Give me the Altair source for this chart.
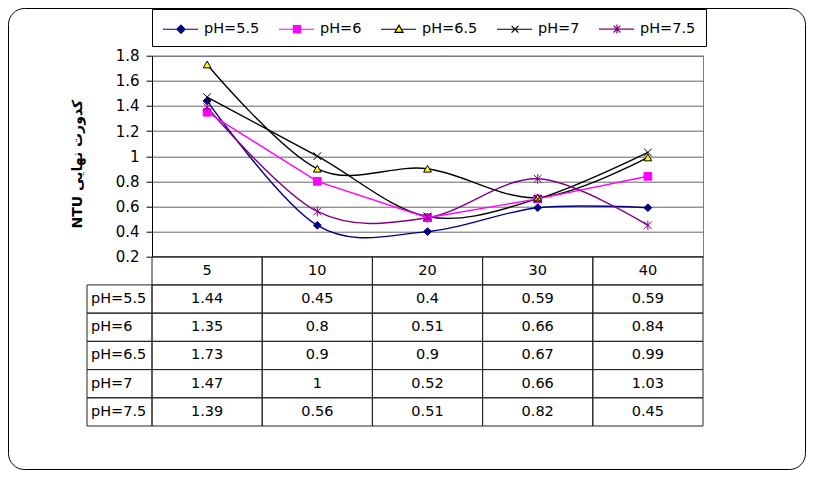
import altair as alt
import pandas as pd

# ---------------- data ----------------
conc = ["5", "10", "20", "30", "40"]
series = ["pH=5.5", "pH=6", "pH=6.5", "pH=7", "pH=7.5"]
ph55 = [1.44, 0.45, 0.4, 0.59, 0.59]
ph6 = [1.35, 0.8, 0.51, 0.66, 0.84]
ph65 = [1.73, 0.9, 0.9, 0.67, 0.99]
ph7 = [1.47, 1, 0.52, 0.66, 1.03]
ph75 = [1.39, 0.56, 0.51, 0.82, 0.45]
values = [ph55, ph6, ph65, ph7, ph75]
y_ticks = [0.2, 0.4, 0.6, 0.8, 1.0, 1.2, 1.4, 1.6, 1.8]
y_title = "NTU کدورت نهایی"
x_title = "mg/l غلظت"

line_colors = ["#000080", "#FF00FF", "#000000", "#000000", "#800080"]
fill_colors = ["#000080", "#FF00FF", "#FFFF00", "#000000", "#800080"]
marker_shapes = [
    "diamond",
    "square",
    "triangle-up",
    "M-1,-1L1,1M-1,1L1,-1",
    "M-1,-1L1,1M-1,1L1,-1M0,-1.25L0,1.25",
]
legend_shapes = [
    "M-1,0L2.89,0M1,-0.45L1.45,0L1,0.45L0.55,0Z",
    "M-1,0L2.89,0M0.6,-0.4L1.4,-0.4L1.4,0.4L0.6,0.4Z",
    "M-1,0L0.75,0M1.25,0L2.89,0M1,-0.45L1.45,0.35L0.55,0.35Z",
    "M-1,0L2.89,0M0.62,-0.38L1.38,0.38M0.62,0.38L1.38,-0.38",
    "M-1,0L2.89,0M0.62,-0.38L1.38,0.38M0.62,0.38L1.38,-0.38M1,-0.5L1,0.5",
]

rows = []
for s, vals in zip(series, values):
    for j, (c, v) in enumerate(zip(conc, vals)):
        rows.append({"series": s, "conc": c, "idx": j, "value": v, "label": f"{v:g}"})
df = pd.DataFrame(rows)

tbl_rows = [{"row": "hdr", "conc": c, "text": c} for c in conc]
for r in rows:
    tbl_rows.append({"row": r["series"], "conc": r["conc"], "text": r["label"]})
tbl = pd.DataFrame(tbl_rows)
lbl = pd.DataFrame({"row": series})

FONT = "DejaVu Sans"
W, H = 551, 201

# ---------------- encodings ----------------
x_axis = alt.Axis(
    labels=False, ticks=False, grid=False, domain=True,
    domainColor="#404040", domainWidth=2,
    title=x_title, titleFont=FONT, titleFontSize=14, titleFontWeight="bold",
    titleColor="black", titleX=246, titleY=192, titleAlign="center",
    titleBaseline="middle", titleAngle=0,
)
x_enc = alt.X("conc:O", scale=alt.Scale(type="band", domain=conc, paddingInner=0, paddingOuter=0), axis=x_axis)
x_enc_na = alt.X("conc:O", scale=alt.Scale(type="band", domain=conc, paddingInner=0, paddingOuter=0), axis=None)

y_axis = alt.Axis(
    values=y_ticks, format=".1~f", grid=True, gridColor="#666666", gridWidth=1,
    domainColor="black", tickColor="black", tickSize=6, labelPadding=7,
    labelFont=FONT, labelFontSize=15, labelColor="black",
    title=y_title, titleFont=FONT, titleFontSize=14, titleFontWeight="bold",
    titleColor="black", titleX=-75, titleY=108, titleAngle=270,
    titleAlign="center", titleBaseline="middle",
)
y_enc = alt.Y("value:Q", scale=alt.Scale(domain=[0.2, 1.8], nice=False, zero=False), axis=y_axis)

stroke_enc = alt.Stroke("series:N", scale=alt.Scale(domain=series, range=line_colors), legend=None)
fill_enc = alt.Fill("series:N", scale=alt.Scale(domain=series, range=fill_colors), legend=None)
shape_enc = alt.Shape("series:N", scale=alt.Scale(domain=series, range=marker_shapes), legend=None)

base = alt.Chart(df)

line_smooth = base.transform_filter(alt.datum.series != "pH=6").mark_line(
    interpolate="cardinal", strokeWidth=1.4
).encode(x=x_enc, y=y_enc, stroke=stroke_enc, order=alt.Order("idx:Q"), detail="series:N")

line_lin = base.transform_filter(alt.datum.series == "pH=6").mark_line(
    interpolate="linear", strokeWidth=1.4
).encode(x=x_enc, y=y_enc, stroke=stroke_enc, order=alt.Order("idx:Q"), detail="series:N")

points = base.mark_point(filled=True, opacity=1, size=60, strokeWidth=1).encode(
    x=x_enc, y=y_enc, stroke=stroke_enc, fill=fill_enc, shape=shape_enc
)

plot = alt.layer(line_smooth, line_lin, points)

# ---------------- data table ----------------
ty_enc = alt.Y(
    "row:N",
    scale=alt.Scale(type="band", domain=["hdr"] + series, range=[201, 370.3], paddingInner=0, paddingOuter=0),
    axis=None,
)
cells = alt.Chart(tbl).mark_rect(fill="transparent", stroke="#222222", strokeWidth=1).encode(x=x_enc_na, y=ty_enc)
cell_text = alt.Chart(tbl).mark_text(font=FONT, fontSize=14.5, color="black", baseline="middle").encode(
    x=x_enc_na, y=ty_enc, text="text:N"
)
label_cells = alt.Chart(lbl).mark_rect(fill="transparent", stroke="#222222", strokeWidth=1).encode(
    x=alt.value(-65), x2=alt.value(0), y=ty_enc
)
label_text = alt.Chart(lbl).mark_text(font=FONT, fontSize=14.5, color="black", align="left", baseline="middle").encode(
    x=alt.value(-61), y=ty_enc, text="row:N"
)
table = alt.layer(cells, label_cells, cell_text, label_text)

# ---------------- legend ----------------
leg = alt.Legend(
    title=None, orient="none", legendX=0, legendY=-46.7, direction="horizontal",
    strokeColor="black", fillColor="white", padding=10,
    symbolSize=324, symbolStrokeWidth=1.2, labelOffset=22, columnPadding=16,
    labelFont=FONT, labelFontSize=14.5, labelColor="black", labelBaseline="middle",
)
legend_layer = base.transform_filter("datum.value > 100").mark_point(
    filled=True, opacity=1, size=324, strokeWidth=1.2
).encode(
    shape=alt.Shape("series:N", scale=alt.Scale(domain=series, range=legend_shapes), legend=leg),
    fill=alt.Fill("series:N", scale=alt.Scale(domain=series, range=fill_colors), legend=leg),
    stroke=alt.Stroke("series:N", scale=alt.Scale(domain=series, range=line_colors), legend=leg),
)

# ---------------- outer border ----------------
border = alt.Chart(pd.DataFrame({"a": [0]})).mark_rect(
    fill="transparent", stroke="black", strokeWidth=1, cornerRadius=16
).encode(
    x=alt.value(-143.5), x2=alt.value(W + 103 - 0.5),
    y=alt.value(-47.2), y2=alt.value(H + 213.3 - 0.5),
)

chart = alt.layer(border, plot, table, legend_layer).resolve_scale(
    y="independent", shape="independent", fill="independent", stroke="independent"
).properties(
    width=W, height=H,
    padding={"left": 144, "top": 47.7, "right": 103, "bottom": 213.3},
    autosize=alt.AutoSizeParams(type="none"),
    background="white",
).configure_view(stroke="#808080", strokeWidth=1)

chart.save("out.html", embed_options={"renderer": "svg", "actions": False})
